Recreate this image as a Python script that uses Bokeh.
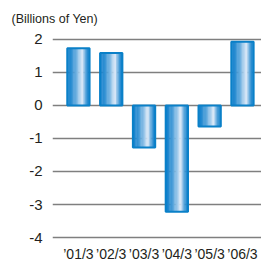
import numpy as np
from bokeh.plotting import figure
from bokeh.models import ColumnDataSource, Range1d, FixedTicker
from bokeh.transform import dodge
from bokeh.embed import file_html
from bokeh.resources import INLINE

categories = ["’01/3", "’02/3", "’03/3", "’04/3", "’05/3", "’06/3"]
values = [1.73, 1.59, -1.27, -3.22, -0.64, 1.93]
y_ticks = [-4, -3, -2, -1, 0, 1, 2]
y_tick_labels = ["-4", "-3", "-2", "-1", "0", "1", "2"]
unit_label = "(Billions of Yen)"

idx = list(range(len(categories)))
src = ColumnDataSource(dict(x=idx, top=values, bottom=[0] * len(values)))

FONT = "Liberation Sans"
TXT = "#231f20"

p = figure(width=261, height=264, output_backend="svg", toolbar_location=None,
           x_range=Range1d(-0.79, 5.58), y_range=Range1d(-4.06, 2.27),
           min_border_left=52, min_border_right=0, min_border_top=30,
           min_border_bottom=23)
p.outline_line_color = None
p.background_fill_color = "white"

# title
p.title.text = unit_label
p.title.align = "left"
p.title.offset = -41
p.title.text_font = FONT
p.title.text_font_size = "12.5px"
p.title.text_font_style = "normal"
p.title.text_color = TXT
p.title.standoff = 9

# y axis
p.yaxis.ticker = FixedTicker(ticks=y_ticks)
p.yaxis.major_label_overrides = dict(zip(y_ticks, y_tick_labels))
p.yaxis.axis_line_color = None
p.yaxis.major_tick_line_color = None
p.yaxis.minor_tick_line_color = None
p.yaxis.major_label_standoff = 4
p.yaxis.major_label_text_font = FONT
p.yaxis.major_label_text_font_size = "15px"
p.yaxis.major_label_text_color = TXT

# x axis
p.xaxis.ticker = FixedTicker(ticks=idx)
p.xaxis.major_label_overrides = dict(zip(idx, categories))
p.xaxis.axis_line_color = None
p.xaxis.major_tick_line_color = None
p.xaxis.minor_tick_line_color = None
p.xaxis.major_tick_out = 0
p.xaxis.major_label_standoff = 6
p.xaxis.major_label_text_baseline = "middle"
p.xaxis.major_label_text_font = FONT
p.xaxis.major_label_text_font_size = "14px"
p.xaxis.major_label_text_color = TXT

# grid
p.xgrid.visible = False
p.ygrid.ticker = FixedTicker(ticks=y_ticks)
p.ygrid.grid_line_color = "#7f7f7f"
p.ygrid.grid_line_width = 1.5

# gradient bars (vertical strips)
bw = 0.68
n = 18
h = 0.68
dark = np.array([18, 128, 204])
light = np.array([228, 237, 249])
for i in range(n):
    t = (i + 0.5) / n
    d = (t - h) / h if t < h else (t - h) / (1 - h)
    s = (1 - abs(d)) ** 1.6
    c = dark + (light - dark) * s
    col = "#%02x%02x%02x" % tuple(int(round(v)) for v in c)
    off = -bw / 2 + (i + 0.5) * bw / n
    p.vbar(x=dodge("x", off), top="top", bottom="bottom", width=bw / n * 1.3,
           source=src, fill_color=col, line_color=None)

p.vbar(x="x", top="top", bottom="bottom", width=bw, source=src,
       fill_color=None, line_color="#0a80c8", line_width=2)

open("out.html", "w").write(file_html(p, INLINE))
